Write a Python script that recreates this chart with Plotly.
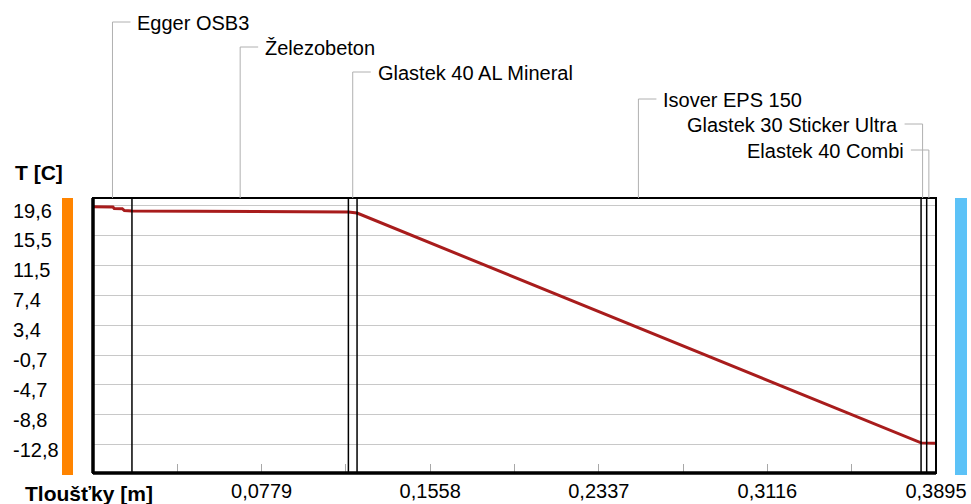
import plotly.graph_objects as go

# ---- data ----
depth_m = [0.0, 0.0092, 0.0098, 0.0135, 0.0145, 0.018, 0.118, 0.122, 0.3826, 0.3852, 0.3895]
temp_c = [19.42, 19.40, 19.20, 19.18, 18.92, 18.86, 18.72, 18.58, -12.55, -12.57, -12.60]

layer_names = ["Egger OSB3", "Železobeton", "Glastek 40 AL Mineral", "Isover EPS 150",
               "Glastek 30 Sticker Ultra", "Elastek 40 Combi"]
layer_bounds = [0.018, 0.118, 0.122, 0.3826, 0.3852]        # interfaces between layers
leader_x = [0.009, 0.068, 0.120, 0.252, 0.3833, 0.3862]      # leader positions (layer middles)
label_side = ["left", "left", "left", "left", "right", "right"]
label_ypix = [23, 48, 73, 100, 125, 151]                     # label rows (pixels from top)

y_tickvals = [19.6, 15.55, 11.5, 7.45, 3.4, -0.65, -4.7, -8.75, -12.8]
y_ticktext = ["19,6", "15,5", "11,5", "7,4", "3,4", "-0,7", "-4,7", "-8,8", "-12,8"]
x_tickvals = [0.0779, 0.1558, 0.2337, 0.3116, 0.3895]
x_ticktext = ["0,0779", "0,1558", "0,2337", "0,3116", "0,3895"]
x_minor_step = 0.03895

# ---- layout geometry ----
W, H = 971, 504
L, R, T, B = 93, 35, 198, 31
PW, PH = W - L - R, H - T - B
FONT = "Liberation Sans, Arial, sans-serif"


def px_x(p):
    return (p - L) / PW


def px_y(p):
    return (H - B - p) / PH


fig = go.Figure()
fig.add_trace(go.Scatter(x=depth_m, y=temp_c, mode="lines",
                         line=dict(color="#a81c1c", width=3), hoverinfo="skip",
                         showlegend=False))

shapes = []
# layer interface lines
for b in layer_bounds:
    shapes.append(dict(type="line", xref="x", yref="paper", x0=b, x1=b, y0=0, y1=1,
                       line=dict(color="black", width=1.5), layer="above"))
# plot border
shapes.append(dict(type="rect", xref="paper", yref="paper", x0=0, x1=1, y0=0, y1=1,
                   line=dict(color="black", width=2), layer="above"))
shapes.append(dict(type="line", xref="paper", yref="paper", x0=0, x1=0, y0=0, y1=1,
                   line=dict(color="black", width=3.5), layer="above"))
shapes.append(dict(type="line", xref="paper", yref="paper", x0=0, x1=1, y0=0, y1=0,
                   line=dict(color="black", width=3.5), layer="above"))
# side colour bars
shapes.append(dict(type="rect", xref="paper", yref="paper", x0=px_x(62), x1=px_x(73),
                   y0=px_y(475), y1=1, fillcolor="#ff8400", line=dict(width=0)))
shapes.append(dict(type="rect", xref="paper", yref="paper", x0=px_x(955), x1=px_x(967),
                   y0=px_y(475), y1=1, fillcolor="#5cc2f7", line=dict(width=0)))

annotations = []
for name, lx, side, yp in zip(layer_names, leader_x, label_side, label_ypix):
    ly = px_y(yp - 1)
    shapes.append(dict(type="line", xref="x", yref="paper", x0=lx, x1=lx, y0=ly, y1=1,
                       line=dict(color="#b0b0b0", width=1)))
    if side == "left":
        x0, x1, xs, anc = 0, 18, 23, "left"
    else:
        x0, x1, xs, anc = -18, 0, -23, "right"
    shapes.append(dict(type="line", xref="x", yref="paper", xsizemode="pixel", xanchor=lx,
                       x0=x0, x1=x1, y0=ly, y1=ly, line=dict(color="#b0b0b0", width=1)))
    annotations.append(dict(text=name, xref="x", yref="paper", x=lx, xshift=xs,
                            y=px_y(yp), xanchor=anc, yanchor="middle", showarrow=False,
                            font=dict(family=FONT, size=20, color="black")))

for v, t in zip(y_tickvals, y_ticktext):
    annotations.append(dict(text=t, xref="paper", yref="y", x=px_x(11), y=v, yshift=-5,
                            xanchor="left", yanchor="middle", showarrow=False,
                            font=dict(family=FONT, size=20, color="black")))

annotations.append(dict(text="<b>T [C]</b>", xref="paper", yref="paper", x=px_x(13),
                        y=px_y(172), xanchor="left", yanchor="middle", showarrow=False,
                        font=dict(family=FONT, size=21, color="black")))
annotations.append(dict(text="<b>Tloušťky [m]</b>", xref="paper", yref="paper", x=px_x(23),
                        y=px_y(493), xanchor="left", yanchor="middle", showarrow=False,
                        font=dict(family=FONT, size=21, color="black")))

fig.update_layout(
    width=W, height=H, autosize=False,
    margin=dict(l=L, r=R, t=T, b=B, autoexpand=False),
    paper_bgcolor="white", plot_bgcolor="white",
    shapes=shapes, annotations=annotations,
    showlegend=False,
    xaxis=dict(range=[0, 0.3895], tickvals=x_tickvals, ticktext=x_ticktext,
               automargin=False,
               ticks="inside", ticklen=9, tickcolor="#a8a8a8", tickwidth=1,
               minor=dict(dtick=x_minor_step, tick0=0, ticks="inside", ticklen=9,
                          tickcolor="#a8a8a8", showgrid=False),
               showgrid=False, zeroline=False, showline=False,
               ticklabelstandoff=4,
               tickfont=dict(family=FONT, size=20, color="black")),
    yaxis=dict(range=[-16.63, 20.62], tickvals=y_tickvals, showticklabels=False,
               automargin=False,
               showgrid=True, gridcolor="#c8c8c8", gridwidth=1, zeroline=False,
               showline=False, ticks=""),
)

fig.write_html("out.html")
